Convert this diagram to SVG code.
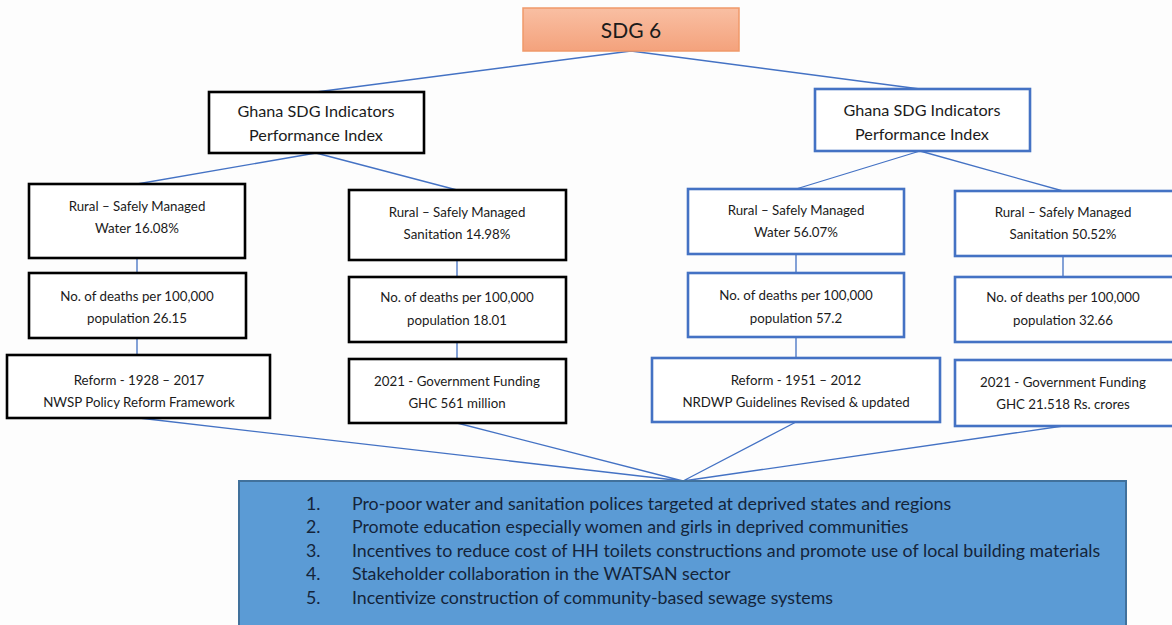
<svg xmlns="http://www.w3.org/2000/svg" width="1172" height="625" viewBox="0 0 1172 625">
<defs>
<linearGradient id="sdgGrad" x1="0" y1="0" x2="0" y2="1">
<stop offset="0" stop-color="#f9bfa3"/>
<stop offset="1" stop-color="#f4a27c"/>
</linearGradient>
<style>
.t{font-family:Lato,"Open Sans","Liberation Sans",sans-serif;fill:#1b1b1b;text-anchor:middle}
.s{font-size:13.3px}
.m{font-size:16.2px}
.bk{fill:#ffffff;stroke:#000000;stroke-width:2.6}
.bl{fill:#ffffff;stroke:#4472c4;stroke-width:2.6}
.c{stroke:#4472c4;stroke-width:1.3;fill:none}
.li{font-family:Lato,"Open Sans","Liberation Sans",sans-serif;font-size:17.8px;fill:#14243a}
</style>
</defs>
<rect width="1172" height="625" fill="#fdfdfd"/>
<g id="connectors">
<path class="c" d="M631 51 L316 92 M631 51 L920 89"/>
<path class="c" d="M316 153 L137 184 M316 153 L457 190"/>
<path class="c" d="M920 151 L796 189 M920 151 L1063 191"/>
<path class="c" d="M137 258 V273 M137 338 V355 M457 260 V277 M457 342 V359 M796 254 V273 M796 337 V358 M1063 256 V277"/>
<path class="c" d="M139 418 L683 481 M457 423 L683 481 M796 422 L683 481 M1063 426 L683 481"/>
</g>
<g id="sdg6">
<rect x="523" y="8" width="216" height="43" fill="url(#sdgGrad)" stroke="#f0996a" stroke-width="1.5"/>
<text class="t" x="631" y="38" font-size="21">SDG 6</text>
</g>
<g id="ghana-left">
<rect class="bk" x="209" y="92" width="215" height="61"/>
<text class="t m" x="316" y="117">Ghana SDG Indicators</text>
<text class="t m" x="316" y="141">Performance Index</text>
</g>
<g id="ghana-right">
<rect class="bl" x="815" y="89" width="215" height="62"/>
<text class="t m" x="922" y="116">Ghana SDG Indicators</text>
<text class="t m" x="922" y="140">Performance Index</text>
</g>
<g id="l-water">
<rect class="bk" x="29" y="184" width="216" height="74"/>
<text class="t s" x="137" y="211">Rural – Safely Managed</text>
<text class="t s" x="137" y="233">Water 16.08%</text>
</g>
<g id="l-water-deaths">
<rect class="bk" x="29" y="273" width="217" height="65"/>
<text class="t s" x="137" y="301">No. of deaths per 100,000</text>
<text class="t s" x="137" y="323">population 26.15</text>
</g>
<g id="l-water-reform">
<rect class="bk" x="7" y="355" width="263" height="63"/>
<text class="t s" x="139" y="385">Reform - 1928 – 2017</text>
<text class="t s" x="139" y="407">NWSP Policy Reform Framework</text>
</g>
<g id="l-san">
<rect class="bk" x="349" y="190" width="217" height="70"/>
<text class="t s" x="457" y="217">Rural – Safely Managed</text>
<text class="t s" x="457" y="239">Sanitation 14.98%</text>
</g>
<g id="l-san-deaths">
<rect class="bk" x="349" y="277" width="217" height="65"/>
<text class="t s" x="457" y="302">No. of deaths per 100,000</text>
<text class="t s" x="457" y="325">population 18.01</text>
</g>
<g id="l-san-funding">
<rect class="bk" x="349" y="359" width="217" height="64"/>
<text class="t s" x="457" y="386">2021 - Government Funding</text>
<text class="t s" x="457" y="408">GHC 561 million</text>
</g>
<g id="r-water">
<rect class="bl" x="688" y="189" width="216" height="65"/>
<text class="t s" x="796" y="215">Rural – Safely Managed</text>
<text class="t s" x="796" y="237">Water 56.07%</text>
</g>
<g id="r-water-deaths">
<rect class="bl" x="688" y="273" width="216" height="64"/>
<text class="t s" x="796" y="300">No. of deaths per 100,000</text>
<text class="t s" x="796" y="323">population 57.2</text>
</g>
<g id="r-water-reform">
<rect class="bl" x="652" y="358" width="288" height="64"/>
<text class="t s" x="796" y="385">Reform - 1951 – 2012</text>
<text class="t s" x="796" y="407">NRDWP Guidelines Revised &amp; updated</text>
</g>
<g id="r-san">
<rect class="bl" x="955" y="191" width="220" height="65"/>
<text class="t s" x="1063" y="217">Rural – Safely Managed</text>
<text class="t s" x="1063" y="239">Sanitation 50.52%</text>
</g>
<g id="r-san-deaths">
<rect class="bl" x="955" y="277" width="220" height="65"/>
<text class="t s" x="1063" y="302">No. of deaths per 100,000</text>
<text class="t s" x="1063" y="325">population 32.66</text>
</g>
<g id="r-san-funding">
<rect class="bl" x="955" y="360" width="220" height="66"/>
<text class="t s" x="1063" y="387">2021 - Government Funding</text>
<text class="t s" x="1063" y="409">GHC 21.518 Rs. crores</text>
</g>
<g id="recommendations">
<rect x="239" y="481" width="887" height="150" fill="#5b9bd5" stroke="#41719c" stroke-width="2"/>
<text class="li" x="306" y="510">1.</text>
<text class="li" x="352" y="510">Pro-poor water and sanitation polices targeted at deprived states and regions</text>
<text class="li" x="306" y="533">2.</text>
<text class="li" x="352" y="533">Promote education especially women and girls in deprived communities</text>
<text class="li" x="306" y="557">3.</text>
<text class="li" x="352" y="557">Incentives to reduce cost of HH toilets constructions and promote use of local building materials</text>
<text class="li" x="306" y="580">4.</text>
<text class="li" x="352" y="580">Stakeholder collaboration in the WATSAN sector</text>
<text class="li" x="306" y="604">5.</text>
<text class="li" x="352" y="604">Incentivize construction of community-based sewage systems</text>
</g>
</svg>
